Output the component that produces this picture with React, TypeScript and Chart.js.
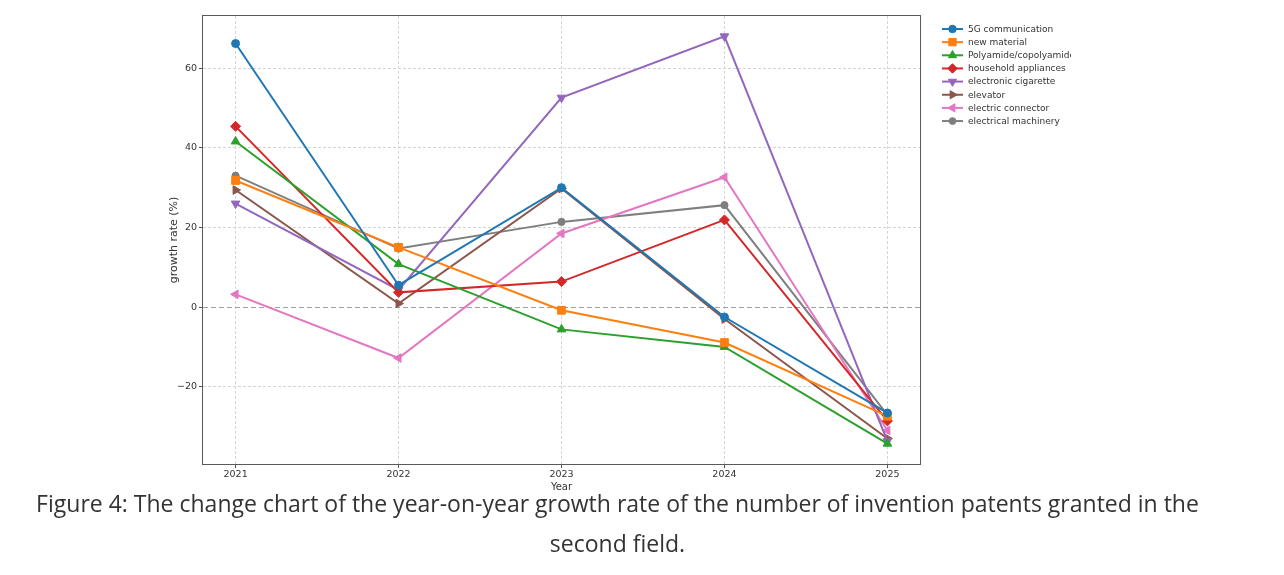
import React, { useEffect, useRef } from "react";
import { Chart, registerables } from "chart.js";

Chart.register(...registerables);

// Years on the x axis
const years = [2021, 2022, 2023, 2024, 2025];

// Year-on-year growth rate (%) of invention patents granted, per field
const fiveGCommunication = [66.2, 5.5, 30.0, -2.5, -26.6];
const newMaterial = [31.8, 15.0, -0.8, -8.9, -27.4];
const polyamideCopolyamide = [41.6, 10.8, -5.6, -10.0, -34.3];
const householdAppliances = [45.4, 3.7, 6.4, 21.9, -28.6];
const electronicCigarette = [26.0, 4.3, 52.6, 68.0, -33.7];
const elevator = [29.4, 0.9, 29.8, -3.0, -33.0];
const electricConnector = [3.2, -12.8, 18.5, 32.6, -31.0];
const electricalMachinery = [33.0, 14.7, 21.4, 25.6, -27.1];

const seriesLabels = [
  "5G communication",
  "new material",
  "Polyamide/copolyamide",
  "household appliances",
  "electronic cigarette",
  "elevator",
  "electric connector",
  "electrical machinery",
];

const seriesValues = [
  fiveGCommunication,
  newMaterial,
  polyamideCopolyamide,
  householdAppliances,
  electronicCigarette,
  elevator,
  electricConnector,
  electricalMachinery,
];

const yTickValues = [-20, 0, 20, 40, 60];

const captionLine1 =
  "Figure 4: The change chart of the year-on-year growth rate of the number of invention patents granted in the";
const captionLine2 = "second field.";

// Visual styling for each series (tab10 palette, matplotlib-like markers)
const seriesColors = [
  "#1f77b4",
  "#ff7f0e",
  "#2ca02c",
  "#d62728",
  "#9467bd",
  "#8c564b",
  "#e377c2",
  "#7f7f7f",
];
const markerStyles = [
  { style: "circle", rotation: 0, radius: 4 },
  { style: "rect", rotation: 0, radius: 5.5 },
  { style: "triangle", rotation: 0, radius: 5 },
  { style: "rectRot", rotation: 0, radius: 5 },
  { style: "triangle", rotation: 180, radius: 5 },
  { style: "triangle", rotation: 90, radius: 5 },
  { style: "triangle", rotation: -90, radius: 5 },
  { style: "circle", rotation: 0, radius: 3.6 },
];

const FONT = '"DejaVu Sans", sans-serif';

function drawMarker(
  ctx: CanvasRenderingContext2D,
  style: string,
  x: number,
  y: number,
  r: number,
  rotation: number,
  color: string
) {
  ctx.save();
  ctx.translate(x, y);
  ctx.rotate((rotation * Math.PI) / 180);
  ctx.fillStyle = color;
  ctx.strokeStyle = color;
  ctx.lineWidth = 1;
  ctx.beginPath();
  if (style === "circle") {
    ctx.arc(0, 0, r, 0, Math.PI * 2);
  } else if (style === "rect") {
    const s = r / Math.SQRT2;
    ctx.rect(-s, -s, 2 * s, 2 * s);
  } else if (style === "rectRot") {
    ctx.moveTo(0, -r);
    ctx.lineTo(r, 0);
    ctx.lineTo(0, r);
    ctx.lineTo(-r, 0);
    ctx.closePath();
  } else {
    let a = 0;
    ctx.moveTo(Math.sin(a) * r, -Math.cos(a) * r);
    a += (2 * Math.PI) / 3;
    ctx.lineTo(Math.sin(a) * r, -Math.cos(a) * r);
    a += (2 * Math.PI) / 3;
    ctx.lineTo(Math.sin(a) * r, -Math.cos(a) * r);
    ctx.closePath();
  }
  ctx.fill();
  ctx.stroke();
  ctx.restore();
}

// Dashed zero reference line and the full frame around the plot
const framePlugin = {
  id: "frameAndZero",
  beforeDatasetsDraw(chart: any) {
    const { ctx, chartArea, scales } = chart;
    const y0 = Math.round(scales.y.getPixelForValue(0)) + 0.5;
    ctx.save();
    ctx.strokeStyle = "#a0a0a0";
    ctx.lineWidth = 1;
    ctx.setLineDash([5, 3]);
    ctx.beginPath();
    ctx.moveTo(chartArea.left, y0);
    ctx.lineTo(chartArea.right, y0);
    ctx.stroke();
    ctx.restore();
  },
  afterDatasetsDraw(chart: any) {
    const { ctx, chartArea } = chart;
    ctx.save();
    ctx.strokeStyle = "#5a5a5a";
    ctx.lineWidth = 1;
    ctx.strokeRect(
      chartArea.left - 0.5,
      chartArea.top - 0.5,
      chartArea.right - chartArea.left + 1,
      chartArea.bottom - chartArea.top + 1
    );
    ctx.restore();
  },
};

// Legend outside the plot: a short line with the series marker, then the label
const sideLegendPlugin = {
  id: "sideLegend",
  afterDraw(chart: any) {
    const { ctx } = chart;
    const x0 = 942;
    const top = 29;
    const step = 13.15;
    ctx.save();
    ctx.beginPath();
    ctx.rect(930, 0, 141, 200);
    ctx.clip();
    chart.data.datasets.forEach((ds: any, i: number) => {
      const y = top + i * step;
      ctx.strokeStyle = ds.borderColor;
      ctx.lineWidth = 2;
      ctx.beginPath();
      ctx.moveTo(x0, y);
      ctx.lineTo(x0 + 21, y);
      ctx.stroke();
      const m = markerStyles[i];
      drawMarker(ctx, m.style, x0 + 10.5, y, m.radius * 0.95, m.rotation, ds.borderColor);
      ctx.fillStyle = "#333";
      ctx.font = `9px ${FONT}`;
      ctx.textBaseline = "middle";
      ctx.textAlign = "left";
      ctx.fillText(ds.label, x0 + 26, y + 0.5);
    });
    ctx.restore();
  },
};

const allValues = seriesValues.flat();
const dataMin = Math.min(...allValues);
const dataMax = Math.max(...allValues);
const yPad = (dataMax - dataMin) * 0.05;
const xPad = (years[years.length - 1] - years[0]) * 0.05;

export default function App() {
  const canvasRef = useRef<HTMLCanvasElement | null>(null);

  useEffect(() => {
    const canvas = canvasRef.current;
    if (!canvas) return;

    const datasets = seriesValues.map((vals, i) => ({
      label: seriesLabels[i],
      data: vals.map((v, j) => ({ x: years[j], y: v })),
      borderColor: seriesColors[i],
      backgroundColor: seriesColors[i],
      borderWidth: 2,
      pointStyle: markerStyles[i].style,
      pointRotation: markerStyles[i].rotation,
      pointRadius: markerStyles[i].radius,
      pointBorderWidth: 1,
      pointBackgroundColor: seriesColors[i],
      pointBorderColor: seriesColors[i],
      tension: 0,
      clip: false as any,
    }));

    const chart = new Chart(canvas, {
      type: "line",
      data: { datasets },
      options: {
        responsive: false,
        animation: false,
        devicePixelRatio: 1,
        layout: { padding: { left: 158, right: 364, top: 16, bottom: 0 } },
        plugins: {
          legend: { display: false },
          tooltip: { enabled: false },
        },
        scales: {
          x: {
            type: "linear",
            min: years[0] - xPad,
            max: years[years.length - 1] + xPad,
            afterBuildTicks: (s: any) => {
              s.ticks = years.map((v) => ({ value: v }));
            },
            afterFit: (s: any) => {
              s.height = 31;
            },
            grid: {
              color: "#d4d4d4",
              lineWidth: 1,
              tickColor: "#555",
              tickLength: 4,
              drawTicks: true,
            },
            border: { display: false, dash: [3, 2] },
            ticks: {
              color: "#333",
              font: { family: FONT, size: 9.5 },
              padding: 1,
              maxRotation: 0,
              autoSkip: false,
              callback: (v: any) => String(v),
            },
            title: {
              display: true,
              text: "Year",
              color: "#333",
              font: { family: FONT, size: 10 },
              padding: { top: 2, bottom: 2 },
            },
          },
          y: {
            type: "linear",
            min: dataMin - yPad,
            max: dataMax + yPad,
            afterBuildTicks: (s: any) => {
              s.ticks = yTickValues.map((v) => ({ value: v }));
            },
            afterFit: (s: any) => {
              s.width = 45;
            },
            grid: {
              color: (c: any) => (c.tick && c.tick.value === 0 ? "rgba(0,0,0,0)" : "#d4d4d4"),
              lineWidth: 1,
              tickColor: "#555",
              tickLength: 4,
              drawTicks: true,
            },
            border: { display: false, dash: [3, 2] },
            ticks: {
              color: "#333",
              font: { family: FONT, size: 9.5 },
              padding: 2,
              callback: (v: any) => String(v).replace("-", "\u2212"),
            },
            title: {
              display: true,
              text: "growth rate (%)",
              color: "#333",
              font: { family: FONT, size: 11 },
              padding: { top: 10, bottom: 0 },
            },
          },
        },
      },
      plugins: [framePlugin, sideLegendPlugin],
    });

    return () => {
      chart.destroy();
    };
  }, []);

  return (
    <div
      style={{
        position: "fixed",
        left: 0,
        top: 0,
        width: 1284,
        height: 575,
        background: "#ffffff",
        overflow: "hidden",
      }}
    >
      <canvas
        ref={canvasRef}
        width={1284}
        height={495}
        style={{ position: "absolute", left: 0, top: 0, width: 1284, height: 495 }}
      />
      <div
        style={{
          position: "absolute",
          left: 0,
          top: 483,
          width: 1235,
          textAlign: "center",
          fontFamily: '"Open Sans", sans-serif',
          fontSize: 23,
          lineHeight: "40px",
          color: "#333333",
          whiteSpace: "nowrap",
        }}
      >
        {captionLine1}
        <br />
        {captionLine2}
      </div>
    </div>
  );
}
